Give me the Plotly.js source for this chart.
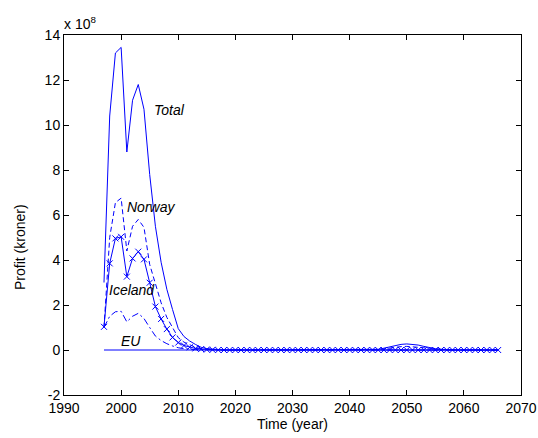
<!DOCTYPE html>
<html>
<head>
<meta charset="utf-8">
<script src="https://cdn.plot.ly/plotly-3.0.1.min.js"></script>
<style>html,body{margin:0;padding:0;background:#fff;}#chart{width:538px;height:438px;}</style>
</head>
<body>
<div id="chart"></div>
<script>
// Years 1997..2066
const years = [1997,1998,1999,2000,2001,2002,2003,2004,2005,2006,
  2007,2008,2009,2010,2011,2012,2013,2014,2015,2016,
  2017,2018,2019,2020,2021,2022,2023,2024,2025,2026,
  2027,2028,2029,2030,2031,2032,2033,2034,2035,2036,
  2037,2038,2039,2040,2041,2042,2043,2044,2045,2046,
  2047,2048,2049,2050,2051,2052,2053,2054,2055,2056,
  2057,2058,2059,2060,2061,2062,2063,2064,2065,2066];

// Profit in units of 1e8 kroner
const total = [3.0,10.4,13.2,13.45,8.8,11.1,11.8,10.7,7.8,5.5,
  3.9,2.7,1.8,0.95,0.6,0.4,0.25,0.12,0.06,0.03,
  0.01,0,0,0,0,0,0,0,0,0,
  0,0,0,0,0,0,0,0,0,0,
  0,0,0,0,0,0,0,0.01,0.03,0.08,
  0.14,0.2,0.25,0.27,0.26,0.22,0.16,0.1,0.06,0.03,
  0.01,0,0,0,0,0,0,0,0,0];

const norway = [1.0,5.0,6.55,6.75,4.4,5.5,5.8,5.45,3.8,3.0,
  2.1,1.45,1.0,0.55,0.35,0.22,0.12,0.06,0.03,0.01,
  0,0,0,0,0,0,0,0,0,0,
  0,0,0,0,0,0,0,0,0,0,
  0,0,0,0,0,0,0,0.01,0.02,0.05,
  0.09,0.13,0.15,0.16,0.15,0.13,0.1,0.06,0.04,0.02,
  0.01,0,0,0,0,0,0,0,0,0];

const iceland = [1.03,3.85,4.96,5.03,3.26,4.07,4.37,4.03,2.99,1.93,
  1.38,0.93,0.56,0.33,0.2,0.12,0.07,0.04,0.02,0.01,
  0,0,0,0,0,0,0,0,0,0,
  0,0,0,0,0,0,0,0,0,0,
  0,0,0,0,0,0,0,0,0,0,
  0,0,0,0,0,0,0,0,0,0,
  0,0,0,0,0,0,0,0,0,0];

const euDashDot = [1.0,1.5,1.7,1.72,1.25,1.5,1.63,1.4,1.0,0.62,
  0.42,0.28,0.18,0.1,0.06,0.03,0.02,0.01,0,0,
  0,0,0,0,0,0,0,0,0,0,
  0,0,0,0,0,0,0,0,0,0,
  0,0,0,0,0,0,0,0,0,0,
  0,0,0,0,0,0,0,0,0,0,
  0,0,0,0,0,0,0,0,0,0];

const flatZero = [0,0,0,0,0,0,0,0,0,0,
  0,0,0,0,0,0,0,0,0,0,
  0,0,0,0,0,0,0,0,0,0,
  0,0,0,0,0,0,0,0,0,0,
  0,0,0,0,0,0,0,0,0,0,
  0,0,0,0,0,0,0,0,0,0,
  0,0,0,0,0,0,0,0,0,0];

const xTicks = [1990,2000,2010,2020,2030,2040,2050,2060,2070];
const yTicks = [-2,0,2,4,6,8,10,12,14];

const blue = '#0000ff';
const font = 'Liberation Sans, Arial, Helvetica, sans-serif';

const traces = [
  {name:'Other', x:years, y:flatZero, mode:'lines', line:{color:blue,width:1}},
  {name:'EU', x:years, y:euDashDot, mode:'lines', line:{color:blue,width:1,dash:'7px,3px,2px,3px'}},
  {name:'Iceland', x:years, y:iceland, mode:'lines+markers', line:{color:blue,width:1},
    marker:{symbol:'x-thin-open',size:6,color:blue,line:{color:blue,width:1}}},
  {name:'Norway', x:years, y:norway, mode:'lines', line:{color:blue,width:1,dash:'5px,3px'}},
  {name:'Total', x:years, y:total, mode:'lines', line:{color:blue,width:1}}
];

const axisCommon = {
  showgrid:false, zeroline:false, showline:true, mirror:'ticks',
  linecolor:'#000', linewidth:1, ticks:'inside', ticklen:5, tickcolor:'#000',
  tickfont:{family:font,size:14,color:'#000'}
};

const layout = {
  width:538, height:438,
  margin:{l:64, r:17, t:35, b:43},
  paper_bgcolor:'#fff', plot_bgcolor:'#fff',
  showlegend:false,
  font:{family:font,size:14,color:'#000'},
  xaxis:Object.assign({}, axisCommon, {range:[1990,2070], tickvals:xTicks, ticktext:xTicks.map(String),
    title:{text:'Time (year)', font:{family:font,size:14,color:'#000'}, standoff:2}}),
  yaxis:Object.assign({}, axisCommon, {range:[-2,14], tickvals:yTicks, ticktext:yTicks.map(String)}),
  annotations:[
    {xref:'paper', yref:'paper', x:0, y:1, xanchor:'left', yanchor:'bottom', yshift:1, xshift:-2,
      text:'x 10<sup>8</sup>', showarrow:false, font:{family:font,size:14,color:'#000'}},
    {xref:'paper', yref:'paper', x:-0.095, y:0.41, xanchor:'center', yanchor:'middle', textangle:-90,
      text:'Profit (kroner)', showarrow:false, font:{family:font,size:14,color:'#000'}},
    {x:2005.4, y:10.67, xanchor:'left', yanchor:'middle', text:'<i>Total</i>', showarrow:false,
      font:{family:font,size:14,color:'#000'}},
    {x:2000.7, y:6.36, xanchor:'left', yanchor:'middle', text:'<i>Norway</i>', showarrow:false,
      font:{family:font,size:14,color:'#000'}},
    {x:1997.6, y:2.67, xanchor:'left', yanchor:'middle', text:'<i>Iceland</i>', showarrow:false,
      font:{family:font,size:14,color:'#000'}},
    {x:1999.7, y:0.4, xanchor:'left', yanchor:'middle', text:'<i>EU</i>', showarrow:false,
      font:{family:font,size:14,color:'#000'}}
  ]
};

Plotly.newPlot('chart', traces, layout, {displayModeBar:false, staticPlot:true});
</script>
</body>
</html>
